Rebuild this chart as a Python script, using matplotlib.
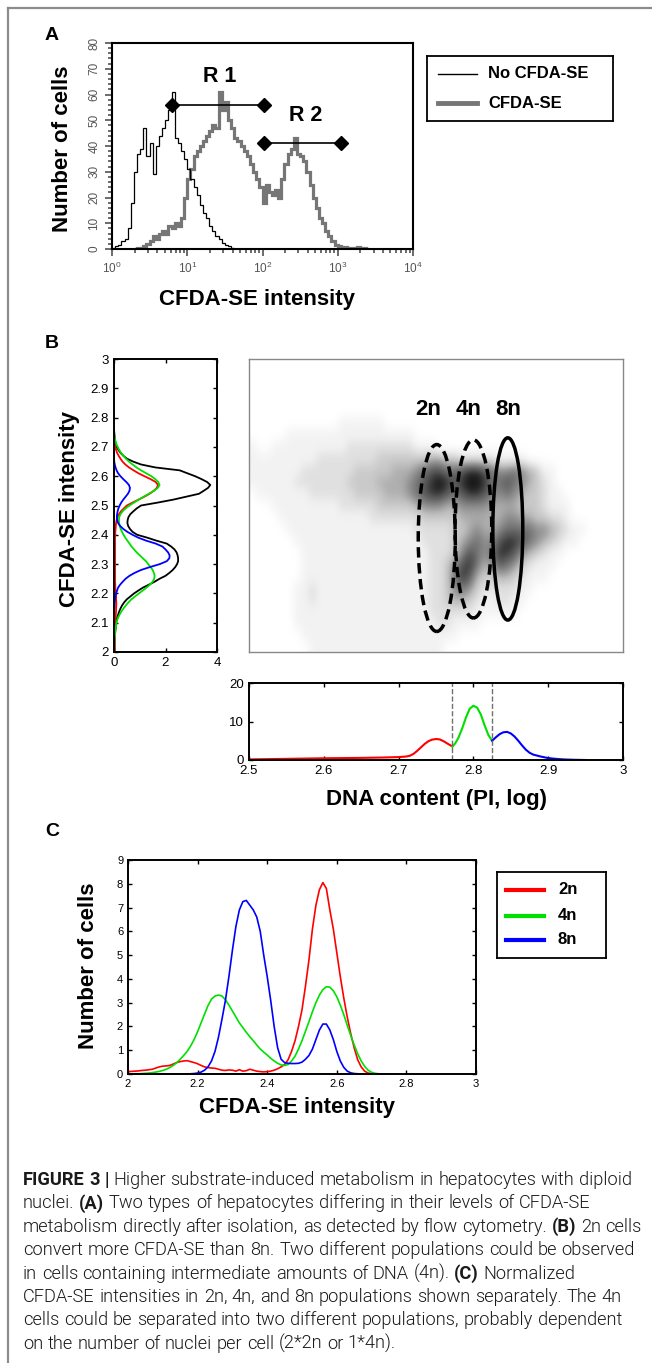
import numpy as np
import matplotlib
matplotlib.use("Agg")
import matplotlib.pyplot as plt
from matplotlib.patches import Ellipse
from matplotlib.lines import Line2D
from matplotlib.ticker import MultipleLocator, FuncFormatter, LogLocator
from matplotlib.transforms import IdentityTransform

plt.rcParams['font.family'] = ['Liberation Sans', 'DejaVu Sans']

# ---------------- data ----------------
RED, GREEN, BLUE = '#ff0000', '#00e000', '#0000ff'

# panel A: flow cytometry histograms, log bins (24 per decade)
a_bins_per_decade = 24
a_black_first_bin = 0
a_black = [0.3, 1, 1.5, 3, 4, 8, 18, 30, 37, 39, 47, 36, 41, 29, 40, 44, 47, 50, 54, 61,
           43, 41, 38, 35, 31, 27, 24, 21, 17, 14, 12, 9, 7, 5, 4, 2.5, 1.5, 1, 0.5, 0]
a_gray_first_bin = 7
a_gray = [0, 0.5, 0.5, 1, 2, 3, 5, 4, 6, 7, 6, 9, 8, 10, 9, 12, 20, 27, 31, 36,
          38, 40, 42, 44, 46, 48, 47, 61, 54, 57, 50, 47, 43, 42, 40, 38, 36, 33, 30, 27,
          24, 18, 25, 22, 21, 23, 20, 27, 33, 37, 39, 43, 37, 36, 34, 30, 25, 20, 16, 12,
          10, 7, 5, 3, 1.5, 1, 0.5, 0.8, 0.3, 0.5, 0.2, 0.8, 0.3, 0.5, 0]
a_legend = ["No CFDA-SE", "CFDA-SE"]
a_gate_names = ["R 1", "R 2"]
a_gate_lo = [6.3, 105]
a_gate_hi = [105, 1120]
a_gate_level = [56, 41]
a_gate_label_x = [27, 380]
a_gate_label_y = [67, 52]

# panel B left: CFDA-SE profiles (x = density, y = CFDA-SE 2.00..2.76)
b_cfda = np.round(np.arange(2.0, 2.765, 0.01), 2)
b_all = [0.02, 0.02, 0.02, 0.03, 0.03, 0.03, 0.04, 0.05, 0.06, 0.07,
         0.08, 0.10, 0.13, 0.17, 0.21, 0.26, 0.32, 0.40, 0.50, 0.64,
         0.78, 0.95, 1.13, 1.36, 1.58, 1.77, 2.00, 2.15, 2.28, 2.38,
         2.45, 2.49, 2.49, 2.47, 2.43, 2.35, 2.22, 2.05, 1.65, 1.30,
         0.90, 0.72, 0.62, 0.55, 0.52, 0.53, 0.56, 0.63, 0.75, 0.88,
         1.05, 1.70, 2.30, 2.80, 3.30, 3.48, 3.65, 3.74, 3.62, 3.40,
         3.15, 2.85, 2.55, 1.60, 1.05, 0.74, 0.50, 0.36, 0.25, 0.17,
         0.11, 0.07, 0.04, 0.03, 0.02, 0.01, 0.0]
b_2n = [0.03, 0.03, 0.03, 0.03, 0.04, 0.04, 0.04, 0.04, 0.05, 0.05,
        0.06, 0.06, 0.06, 0.07, 0.08, 0.08, 0.09, 0.09, 0.08, 0.08,
        0.07, 0.06, 0.05, 0.05, 0.04, 0.04, 0.04, 0.04, 0.04, 0.04,
        0.04, 0.04, 0.04, 0.04, 0.04, 0.04, 0.04, 0.04, 0.04, 0.04,
        0.05, 0.05, 0.06, 0.07, 0.08, 0.10, 0.13, 0.19, 0.27, 0.38,
        0.50, 0.72, 0.95, 1.18, 1.38, 1.54, 1.66, 1.71, 1.62, 1.42,
        1.18, 0.95, 0.76, 0.58, 0.44, 0.33, 0.25, 0.18, 0.12, 0.08,
        0.05, 0.03, 0.02, 0.01, 0.0, 0.0, 0.0]
b_4n = [0.01, 0.01, 0.01, 0.02, 0.02, 0.03, 0.04, 0.05, 0.06, 0.08,
        0.10, 0.13, 0.17, 0.23, 0.30, 0.38, 0.47, 0.57, 0.68, 0.82,
        0.97, 1.12, 1.27, 1.40, 1.50, 1.56, 1.58, 1.55, 1.50, 1.42,
        1.33, 1.24, 1.12, 1.00, 0.88, 0.78, 0.68, 0.60, 0.52, 0.44,
        0.37, 0.31, 0.26, 0.22, 0.20, 0.19, 0.20, 0.25, 0.33, 0.45,
        0.60, 0.78, 0.96, 1.15, 1.35, 1.55, 1.70, 1.77, 1.72, 1.60,
        1.45, 1.25, 1.05, 0.87, 0.72, 0.58, 0.46, 0.36, 0.27, 0.20,
        0.14, 0.09, 0.06, 0.03, 0.01, 0.0, 0.0]
b_8n = [0, 0, 0, 0, 0, 0, 0, 0, 0, 0,
        0, 0, 0, 0, 0, 0.01, 0.02, 0.03, 0.04, 0.06,
        0.08, 0.12, 0.16, 0.24, 0.34, 0.45, 0.60, 0.80, 1.05, 1.40,
        1.78, 2.05, 2.15, 2.16, 2.10, 2.00, 1.88, 1.62, 1.25, 0.95,
        0.72, 0.52, 0.36, 0.24, 0.16, 0.12, 0.11, 0.12, 0.14, 0.17,
        0.22, 0.28, 0.36, 0.45, 0.54, 0.60, 0.62, 0.58, 0.48, 0.36,
        0.25, 0.16, 0.10, 0.06, 0.03, 0.01, 0, 0, 0, 0,
        0, 0, 0, 0, 0, 0, 0]

# panel B scatter: dot density per cell (rows top->bottom CFDA 2.98..2.02, cols DNA 2.505..2.995)
scatter_rows = [
    "00000000000000000000000000000000000000000000000000",
    "00000000000000000000000000000000000000000000000000",
    "00000000000000000000000000000000000000000000000000",
    "00000000000000000000000000000000000000000000000000",
    "00000000000000000000000000000000000000000000000000",
    "00000000000011111100000000000000000000000000000000",
    "00000111111111111111110000000000000000000000000000",
    "10011111111112222222221110000000000000000000000000",
    "11111111122222222333333344332222211110000000000000",
    "11111112222222333334445677667887655654311000000000",
    "11111122222223333444456789878998667654321000000000",
    "01111111222222333344456788767887656543321100000000",
    "00011111111122222333334555445555444433321110000000",
    "00001111111111112222222333334444445544332210000000",
    "00000111111111111111112222233454456666554321100000",
    "00000011111111111111111222234565578876543211000000",
    "00000001111111111111111122235765688754321100000000",
    "00000001111111111111111122357864576532111000000000",
    "00000001111111111111111122368743344321110000000000",
    "00000011211111111111111122356532222211000000000000",
    "00000011211111111111111122344321122110000000000000",
    "00000011111111111111111122222211111100000000000000",
    "00000011111111111111111112211110000000000000000000",
    "00000001111111111111111111110000000000000000000000",
    "00000000111111111111111111000000000000000000000000",
]
gate_names = ["2n", "4n", "8n"]
gate_dna = [2.751, 2.800, 2.846]
gate_cfda = [2.389, 2.420, 2.420]
gate_w = [0.0495, 0.049, 0.040]
gate_h = [0.638, 0.608, 0.622]
gate_dashed = [True, True, False]
gate_label_x = [2.739, 2.793, 2.846]
gate_label_y = 2.826

# panel B bottom: DNA content histogram split by ploidy
dna_cuts = [2.772, 2.825]
h_2n_x = [2.50, 2.55, 2.60, 2.65, 2.68, 2.70, 2.71, 2.715, 2.72, 2.725, 2.73, 2.735,
          2.74, 2.745, 2.75, 2.755, 2.76, 2.765, 2.772]
h_2n_y = [0.15, 0.3, 0.45, 0.55, 0.65, 0.75, 0.9, 1.1, 1.6, 2.4, 3.3, 4.2,
          4.9, 5.3, 5.45, 5.35, 4.9, 4.3, 3.5]
h_4n_x = [2.772, 2.776, 2.78, 2.785, 2.79, 2.795, 2.80, 2.805, 2.81, 2.815, 2.82, 2.825]
h_4n_y = [3.5, 4.4, 5.8, 8.2, 11.0, 13.3, 14.1, 13.6, 11.8, 9.0, 6.5, 5.0]
h_8n_x = [2.825, 2.83, 2.835, 2.84, 2.845, 2.85, 2.855, 2.86, 2.865, 2.87, 2.875, 2.88,
          2.89, 2.90, 2.91, 2.92, 2.935, 2.95]
h_8n_y = [5.0, 5.9, 6.7, 7.2, 7.3, 6.9, 6.1, 5.0, 3.8, 2.7, 1.9, 1.4,
          0.9, 0.5, 0.3, 0.15, 0.05, 0.0]

# panel C: normalized CFDA-SE intensity per ploidy (2.00..2.75)
c_cfda = np.round(np.arange(2.0, 2.755, 0.01), 2)
c_2n = [0.10, 0.11, 0.12, 0.13, 0.15, 0.16, 0.18, 0.20, 0.25, 0.30,
        0.33, 0.34, 0.36, 0.42, 0.48, 0.52, 0.55, 0.56, 0.52, 0.48,
        0.43, 0.36, 0.30, 0.27, 0.25, 0.24, 0.20, 0.16, 0.15, 0.17,
        0.16, 0.12, 0.18, 0.12, 0.14, 0.20, 0.16, 0.12, 0.10, 0.09,
        0.10, 0.12, 0.16, 0.22, 0.30, 0.40, 0.60, 0.95, 1.40, 2.00,
        2.70, 3.70, 4.80, 6.10, 7.10, 7.75, 8.05, 7.80, 6.90, 6.10,
        5.10, 4.10, 3.20, 2.40, 1.70, 1.10, 0.60, 0.30, 0.12, 0.04,
        0.01, 0, 0, 0, 0, 0]
c_4n = [0.00, 0.00, 0.01, 0.01, 0.02, 0.03, 0.04, 0.06, 0.08, 0.11,
        0.15, 0.20, 0.27, 0.36, 0.48, 0.62, 0.78, 0.95, 1.18, 1.45,
        1.78, 2.15, 2.52, 2.88, 3.15, 3.28, 3.32, 3.28, 3.12, 2.90,
        2.65, 2.40, 2.15, 1.95, 1.75, 1.57, 1.40, 1.22, 1.05, 0.92,
        0.80, 0.66, 0.55, 0.45, 0.38, 0.36, 0.40, 0.55, 0.75, 1.05,
        1.40, 1.80, 2.20, 2.62, 3.00, 3.32, 3.55, 3.67, 3.65, 3.50,
        3.25, 2.90, 2.50, 2.05, 1.62, 1.22, 0.85, 0.55, 0.32, 0.16,
        0.07, 0.03, 0.01, 0, 0, 0]
c_8n = [0, 0, 0, 0, 0, 0, 0, 0, 0, 0,
        0, 0, 0, 0, 0, 0, 0, 0, 0.01, 0.02,
        0.04, 0.08, 0.16, 0.30, 0.55, 0.95, 1.55, 2.30, 3.10, 4.10,
        5.20, 6.20, 6.90, 7.25, 7.30, 7.10, 6.90, 6.60, 6.00, 5.00,
        4.10, 3.10, 2.00, 1.10, 0.62, 0.48, 0.45, 0.44, 0.44, 0.45,
        0.50, 0.62, 0.78, 1.05, 1.45, 1.85, 2.10, 2.10, 1.85, 1.45,
        0.95, 0.55, 0.28, 0.12, 0.05, 0.02, 0.01, 0, 0, 0,
        0, 0, 0, 0, 0, 0]
ploidy = ["2n", "4n", "8n"]
ploidy_colors = [RED, GREEN, BLUE]

caption_lines = [
    "**FIGURE 3 |** Higher substrate-induced metabolism in hepatocytes with diploid",
    "nuclei. **(A)** Two types of hepatocytes differing in their levels of CFDA-SE",
    "metabolism directly after isolation, as detected by flow cytometry. **(B)** 2n cells",
    "convert more CFDA-SE than 8n. Two different populations could be observed",
    "in cells containing intermediate amounts of DNA (4n). **(C)** Normalized",
    "CFDA-SE intensities in 2n, 4n, and 8n populations shown separately. The 4n",
    "cells could be separated into two different populations, probably dependent",
    "on the number of nuclei per cell (2*2n or 1*4n).",
]

# ---------------- figure ----------------
W, H = 652, 1363
fig = plt.figure(figsize=(W / 100, H / 100), dpi=100)


def rect(l, t, r, b):
    return [l / W, 1 - b / H, (r - l) / W, (b - t) / H]


def ftext(x, y, s, **kw):
    kw.setdefault('ha', 'center')
    kw.setdefault('va', 'center')
    return fig.text(x / W, 1 - y / H, s, **kw)


def matlab_ticks(ax, size):
    ax.tick_params(which='both', direction='in', top=True, right=True,
                   length=3, width=1, labelsize=size)
    for s in ax.spines.values():
        s.set_linewidth(1.4)


# outer frame
fig.add_artist(Line2D([8 / W, 8 / W], [0, 1 - 8 / H], color='#8c8c8c', lw=1.6))
fig.add_artist(Line2D([8 / W, 1], [1 - 8 / H, 1 - 8 / H], color='#8c8c8c', lw=1.6))

LBL = dict(fontsize=16, fontweight='bold')

# ----- panel A -----
axA = fig.add_axes(rect(112, 43, 413, 249))
edges_black = 10 ** (np.arange(a_black_first_bin, a_black_first_bin + len(a_black) + 1) / a_bins_per_decade)
edges_gray = 10 ** (np.arange(a_gray_first_bin, a_gray_first_bin + len(a_gray) + 1) / a_bins_per_decade)
axA.stairs(a_gray, edges_gray, color='#767676', lw=2.3)
axA.stairs(a_black, edges_black, color='k', lw=0.9, zorder=3)
for name, lo, hi, lev, lx, ly in zip(a_gate_names, a_gate_lo, a_gate_hi, a_gate_level,
                                     a_gate_label_x, a_gate_label_y):
    axA.plot([lo, hi], [lev, lev], color='k', lw=1.2, marker='D', ms=7, zorder=4)
    axA.text(lx, ly, name, fontsize=15.5, fontweight='bold', ha='center', va='center')
axA.set_xscale('log')
axA.set_xlim(1, 1e4)
axA.set_ylim(0, 80)
axA.yaxis.set_major_locator(MultipleLocator(10))
axA.yaxis.set_minor_locator(MultipleLocator(2))
axA.xaxis.set_major_locator(LogLocator(base=10, numticks=10))
axA.xaxis.set_minor_locator(LogLocator(base=10, subs=np.arange(2, 10), numticks=10))
axA.tick_params(which='both', direction='out', color='#444444', labelcolor='#555555',
                labelsize=8.5, width=1.1)
axA.tick_params(which='major', length=5)
axA.tick_params(which='minor', length=3)
axA.tick_params(axis='y', labelrotation=90)
for lab in axA.get_yticklabels():
    lab.set_va('center')
for s in axA.spines.values():
    s.set_linewidth(1.5)
axA.set_ylabel("Number of cells", va='center', **LBL)
axA.yaxis.set_label_coords(63 / W, 1 - 149 / H, transform=fig.transFigure)
axA.set_xlabel("CFDA-SE intensity", va='center', **LBL)
axA.xaxis.set_label_coords(257 / W, 1 - 300 / H, transform=fig.transFigure)

# legend A
axLA = fig.add_axes(rect(427, 56, 613, 121))
axLA.set_xlim(427, 613)
axLA.set_ylim(121, 56)
axLA.set_xticks([])
axLA.set_yticks([])
for s in axLA.spines.values():
    s.set_linewidth(1.3)
for lab, col, lw, yy in zip(a_legend, ['k', '#767676'], [1.0, 3.5], [74, 103]):
    axLA.plot([438, 477], [yy, yy], color=col, lw=lw)
    axLA.text(488, yy, lab, fontsize=12, fontweight='bold', va='center')

# ----- panel B left -----
axBL = fig.add_axes(rect(114, 359, 217, 652))
for vals, col in zip([b_all, b_2n, b_4n, b_8n], ['k', RED, GREEN, BLUE]):
    axBL.plot(vals, b_cfda, color=col, lw=1.3)
axBL.set_xlim(0, 4)
axBL.set_ylim(2, 3)
axBL.set_xticks([0, 2, 4])
axBL.set_yticks(np.arange(2, 3.001, 0.1))
axBL.yaxis.set_major_formatter(FuncFormatter(lambda v, p: f'{v:g}'))
matlab_ticks(axBL, 9.5)
axBL.set_ylabel("CFDA-SE intensity", va='center', **LBL)
axBL.yaxis.set_label_coords(70 / W, 1 - 509 / H, transform=fig.transFigure)

# ----- panel B scatter -----
axS = fig.add_axes(rect(249, 359, 623, 652))
density = np.array([[int(c) for c in row] for row in scatter_rows])
axS.imshow(density, extent=(2.5, 3.0, 2.0, 3.0), origin='upper', cmap='Greys',
           vmin=0, vmax=9.5, interpolation='bicubic', aspect='auto')
for cx, cy, w, h, dashed in zip(gate_dna, gate_cfda, gate_w, gate_h, gate_dashed):
    axS.add_patch(Ellipse((cx, cy), w, h, fill=False, ec='k', lw=2.5,
                          ls=(0, (3, 1.6)) if dashed else '-'))
for name, lx in zip(gate_names, gate_label_x):
    axS.text(lx, gate_label_y, name, fontsize=16, fontweight='bold', ha='center', va='center')
axS.set_xlim(2.5, 3.0)
axS.set_ylim(2.0, 3.0)
axS.set_xticks([])
axS.set_yticks([])
for s in axS.spines.values():
    s.set_color('#888888')
    s.set_linewidth(1)

# ----- panel B DNA histogram -----
axH = fig.add_axes(rect(249, 683, 623, 760))
for xs, ys, col in zip([h_2n_x, h_4n_x, h_8n_x], [h_2n_y, h_4n_y, h_8n_y], ploidy_colors):
    axH.plot(xs, ys, color=col, lw=1.5)
for cut in dna_cuts:
    axH.axvline(cut, color='#707070', ls='--', lw=1)
axH.set_xlim(2.5, 3.0)
axH.set_ylim(0, 20)
axH.set_xticks(np.arange(2.5, 3.001, 0.1))
axH.xaxis.set_major_formatter(FuncFormatter(lambda v, p: f'{v:g}'))
axH.set_yticks([0, 10, 20])
matlab_ticks(axH, 9.5)
axH.set_xlabel("DNA content (PI, log)", va='center', **LBL)
axH.xaxis.set_label_coords(436 / W, 1 - 800 / H, transform=fig.transFigure)

# ----- panel C -----
axC = fig.add_axes(rect(128, 860, 476, 1074))
for vals, col in zip([c_2n, c_4n, c_8n], ploidy_colors):
    axC.plot(c_cfda, vals, color=col, lw=1.2)
axC.set_xlim(2, 3)
axC.set_ylim(0, 9)
axC.set_xticks(np.arange(2, 3.001, 0.2))
axC.xaxis.set_major_formatter(FuncFormatter(lambda v, p: f'{v:g}'))
axC.set_yticks(range(10))
matlab_ticks(axC, 8)
axC.set_ylabel("Number of cells", va='center', **LBL)
axC.yaxis.set_label_coords(88 / W, 1 - 966 / H, transform=fig.transFigure)
axC.set_xlabel("CFDA-SE intensity", va='center', **LBL)
axC.xaxis.set_label_coords(297 / W, 1 - 1108 / H, transform=fig.transFigure)

# legend C
axLC = fig.add_axes(rect(497, 872, 606, 958))
axLC.set_xlim(497, 606)
axLC.set_ylim(958, 872)
axLC.set_xticks([])
axLC.set_yticks([])
for s in axLC.spines.values():
    s.set_linewidth(1.3)
for lab, col, yy in zip(ploidy, ploidy_colors, [890, 916, 940]):
    axLC.plot([506, 544], [yy, yy], color=col, lw=3)
    axLC.text(558, yy, lab, fontsize=12, fontweight='bold', va='center')

# panel letters
for letter, (x, y) in zip("ABC", [(52, 35), (52, 344), (52, 832)]):
    ftext(x, y, letter, fontsize=14, fontweight='bold')

# ----- caption -----
renderer = fig.canvas.get_renderer()
ident = IdentityTransform()
cap_family = ['Roboto', 'DejaVu Sans']


def tokens(line):
    out = []
    for i, part in enumerate(line.split('**')):
        for w in part.split(' '):
            if w:
                out.append((w, i % 2 == 1))
    return out


def put(x, y, s, size, bold):
    return fig.text(x, y, s, fontsize=size, fontweight='bold' if bold else 300,
                    family=cap_family, color='#1a1a1a', transform=ident,
                    ha='left', va='baseline')


def line_width(toks, size):
    sp = size * 100 / 72 * 0.25
    total = 0
    for w, b in toks:
        t = put(0, 0, w, size, b)
        total += t.get_window_extent(renderer).width + sp
        t.remove()
    return total - sp


widest = max(line_width(tokens(line), 12) for line in caption_lines)
cap_size = 12 * 618 / widest
space = cap_size * 100 / 72 * 0.25
for i, line in enumerate(caption_lines):
    x = 23
    y = H - (1185 + 23.4 * i)
    for w, b in tokens(line):
        t = put(x, y, w, cap_size, b)
        x += t.get_window_extent(renderer).width + space

fig.savefig("out.png", dpi=100)
